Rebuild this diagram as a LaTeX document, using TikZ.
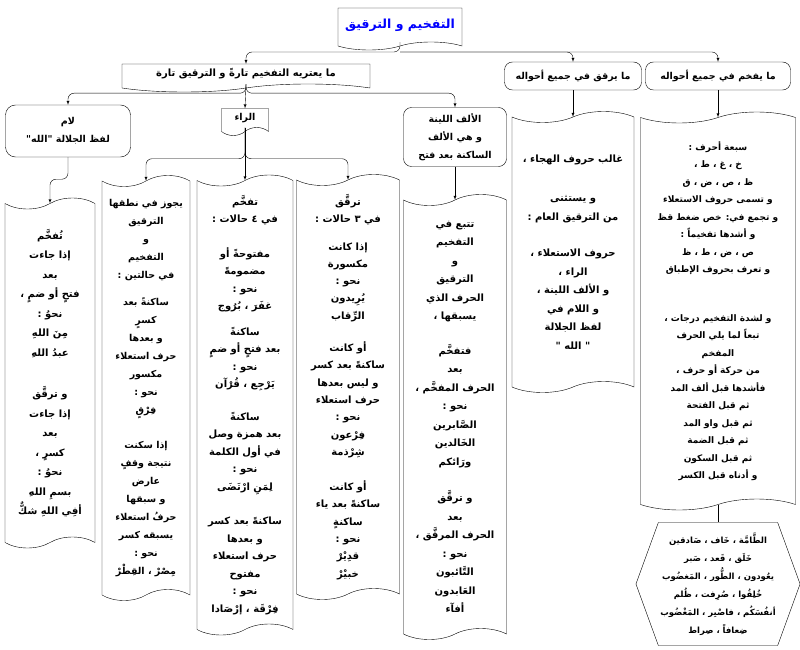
\documentclass[tikz,border=0pt]{standalone}
\usepackage{fontspec}
\newfontfamily\arabicfont[Script=Arabic]{DejaVuSans-Bold.ttf}
\TeXXeTstate=1
\newcommand{\rl}[1]{\beginR #1\endR}
\newcommand{\arsize}[2]{\arabicfont\fontsize{#1}{#2}\selectfont}
\usetikzlibrary{positioning,shapes.symbols}

\begin{document}
\begin{tikzpicture}[x=1pt, y=-1pt,
    every node/.style={font=\arsize{10}{18}, align=center, inner sep=2pt},
    hbox/.style={draw, rounded corners=8pt, font=\arsize{9.5}{18}},
    docbox/.style={draw, tape, tape bend top=none, tape bend height=8pt, font=\arsize{9.5}{18}},
    column/.style={draw, tape, tape bend height=11pt},
    hexa/.style={draw, signal, signal to=east and west, signal pointer angle=140},
    arrow/.style={-latex, rounded corners=6pt}
  ]
  \useasboundingbox (0,0) rectangle (800,650);

  % top level
  \node[docbox, minimum width=124pt, minimum height=42pt, text=blue, font=\arsize{12.5}{18}] (title) at (400,25) {\rl{التفخيم و الترقيق}};
  \node[docbox, minimum width=248pt, minimum height=28pt, font=\arsize{10}{18}] (ya3tarih) at (246,74) {\rl{ما يعتريه التفخيم تارةً و الترقيق تارة}};
  \node[hbox, minimum width=137pt, minimum height=28pt] (yuraqqaq) at (573,76) {\rl{ما يرقق في جميع أحواله}};
  \node[hbox, minimum width=145pt, minimum height=28pt] (yufakhkham) at (718,76) {\rl{ما يفخم في جميع أحواله}};

  % second level
  \node[hbox, rounded corners=10pt, minimum width=125pt, minimum height=52pt] (lam) at (68,131)
    {\rl{لام}\\ \rl{لفظ الجلالة "الله"}};
  \node[docbox, minimum width=47pt, minimum height=27pt] (raa) at (245,118) {\rl{الراء}};
  \node[hbox, minimum width=103pt, minimum height=59pt] (alif) at (455,137)
    {\rl{الألف اللينة}\\ \rl{و هي الألف}\\ \rl{الساكنة بعد فتح}};

  % columns
  \node[column, minimum width=90pt, minimum height=350pt, font=\arsize{10}{19.5}] (lamcol) at (50,373)
    {\rl{تُفخَّم}\\ \rl{إذا جاءت}\\ \rl{بعد}\\ \rl{فتحٍ أو ضمٍ ،}\\ \rl{نحوُ :}\\ \rl{مِنَ اللهِ}\\ \rl{عبدُ اللهِ}\\[22pt]
     \rl{و ترقَّق}\\ \rl{إذا جاءت}\\ \rl{بعد}\\ \rl{كسرٍ ،}\\ \rl{نحوُ :}\\ \rl{بسمِ اللهِ}\\ \rl{أفِي اللهِ شكٌّ}};
  \node[column, minimum width=88pt, minimum height=425pt, font=\arsize{9.5}{18}] (jawaz) at (146,388)
    {\rl{يجوز في نطقها}\\ \rl{الترقيق}\\ \rl{و}\\ \rl{التفخيم}\\ \rl{في حالتين :}\\[9pt]
     \rl{ساكنةً بعد}\\ \rl{كسرٍ}\\ \rl{و بعدها}\\ \rl{حرف استعلاء}\\ \rl{مكسور}\\ \rl{نحو :}\\ \rl{فِرْقٍ}\\[17pt]
     \rl{إذا سكنت}\\ \rl{نتيجة وقفٍ}\\ \rl{عارض}\\ \rl{و سبقها}\\ \rl{حرفُ استعلاء}\\ \rl{يسبقه كسر}\\ \rl{نحو :}\\ \rl{مِصْرْ ، القِطْرْ}};
  \node[column, minimum width=96pt, minimum height=460pt, font=\arsize{10}{17.5}] (tufakhkham) at (245,405)
    {\rl{تفخَّم}\\ \rl{في ٤ حالات :}\\[17pt]
     \rl{مفتوحةً أو}\\ \rl{مضمومةً}\\ \rl{نحو :}\\ \rl{غفَرَ ، بُرُوج}\\[8pt]
     \rl{ساكنةً}\\ \rl{بعد فتحٍ أو ضمٍ}\\ \rl{نحو :}\\ \rl{يَرْجِع ، قُرْآن}\\[15pt]
     \rl{ساكنةً}\\ \rl{بعد همزة وصل}\\ \rl{في أول الكلمة}\\ \rl{نحو :}\\ \rl{لِمَنِ ارْتَضَى}\\[17pt]
     \rl{ساكنةً بعد كسر}\\ \rl{و بعدها}\\ \rl{حرف استعلاء}\\ \rl{مفتوح}\\ \rl{نحو :}\\ \rl{فِرْقَة ، إرْصَادا}};
  \node[column, minimum width=103pt, minimum height=425pt, font=\arsize{10}{17.3}] (turaqqaq) at (348,387)
    {\rl{ترقَّق}\\ \rl{في ٣ حالات :}\\[10pt]
     \rl{إذا كانت}\\ \rl{مكسورة}\\ \rl{نحو :}\\ \rl{يُرِيدون}\\ \rl{الرِّقاب}\\[15pt]
     \rl{أو كانت}\\ \rl{ساكنةً بعد كسر}\\ \rl{و ليس بعدها}\\ \rl{حرف استعلاء}\\ \rl{نحو :}\\ \rl{فِرْعون}\\ \rl{شِرْذمة}\\[18pt]
     \rl{أو كانت}\\ \rl{ساكنةً بعد ياء}\\ \rl{ساكنةٍ}\\ \rl{نحو :}\\ \rl{قدِيْرْ}\\ \rl{خبيْرْ}};
  \node[column, minimum width=103pt, minimum height=445pt, font=\arsize{10}{18.5}] (alifcol) at (455,417)
    {\rl{تتبع في}\\ \rl{التفخيم}\\ \rl{و}\\ \rl{الترقيق}\\ \rl{الحرف الذي}\\ \rl{يسبقها ،}\\[16pt]
     \rl{فتفخَّم}\\ \rl{بعد}\\ \rl{الحرف المفخَّم ،}\\ \rl{نحو :}\\ \rl{الصَّابرين}\\ \rl{الخَالدين}\\ \rl{ورَائكم}\\[18pt]
     \rl{و ترقَّق}\\ \rl{بعد}\\ \rl{الحرف المرقَّق ،}\\ \rl{نحو :}\\ \rl{التَّائبون}\\ \rl{العَابدون}\\ \rl{أفآء}};
  \node[column, minimum width=122pt, minimum height=281pt, font=\arsize{10}{18.5}] (ragcol) at (573,252)
    {\rl{غالب حروف الهجاء ،}\\[21pt]
     \rl{و يستثنى}\\ \rl{من الترقيق العام :}\\[18pt]
     \rl{حروف الاستعلاء ،}\\ \rl{الراء ،}\\ \rl{و الألف اللينة ،}\\ \rl{و اللام في}\\ \rl{لفظ الجلالة}\\ \rl{" الله "}};
  \node[column, minimum width=155pt, minimum height=398pt, font=\arsize{9}{17.5}] (fakcol) at (718,311)
    {\rl{سبعة أحرف :}\\ \rl{خ ، غ ، ط ،}\\ \rl{ظ ، ص ، ض ، ق}\\ \rl{و تسمى حروف الاستعلاء}\\ \rl{و تجمع في: خص ضغط قظ}\\
     \rl{و أشدها تفخيماً :}\\ \rl{ص ، ض ، ط ، ظ}\\ \rl{و تعرف بحروف الإطباق}\\[31pt]
     \rl{و لشدة التفخيم درجات ،}\\ \rl{تبعاً لما يلي الحرف}\\ \rl{المفخم}\\ \rl{من حركة أو حرف ،}\\ \rl{فأشدها قبل ألف المد}\\
     \rl{ثم قبل الفتحة}\\ \rl{ثم قبل واو المد}\\ \rl{ثم قبل الضمة}\\ \rl{ثم قبل السكون}\\ \rl{و أدناه قبل الكسر}};
  \node[hexa, minimum width=157pt, minimum height=123pt, font=\arsize{8.5}{18}] (examples) at (718,584)
    {\rl{الطَّامَّة ، خَاف ، صَادقين}\\ \rl{خَلَق ، قَعد ، صَبر}\\ \rl{يعُودون ، الطُّور ، المَغضُوب}\\
     \rl{خُلِقُوا ، صُرِفت ، ظُلم}\\ \rl{أنفُسَكُم ، فاصْبِر ، المَغْضُوب}\\ \rl{ضِعافاً ، صِراط}};

  % connectors
  \coordinate (split) at (400,52);
  \draw[arrow] (title.south) -- (split) -| (ya3tarih.north);
  \draw[arrow] (split) -| (yuraqqaq.north);
  \draw[arrow] (split) -| (yufakhkham.north);

  \draw[arrow] (ya3tarih.south) -- (raa.north);
  \draw[arrow] (ya3tarih.south) -- ++(0,9) -| (lam.north);
  \draw[arrow] (ya3tarih.south) -- ++(0,9) -| (alif.north);

  \draw[arrow] (lam.south) -- ++(0,22) -| (lamcol.north);
  \draw[arrow] (raa.south) -- (tufakhkham.north);
  \draw[arrow] (raa.south) -- ++(0,31) -| (jawaz.north);
  \draw[arrow] (raa.south) -- ++(0,31) -| (turaqqaq.north);
  \draw[arrow] (alif.south) -- (alifcol.north);

  \draw[arrow] (yuraqqaq.south) -- (ragcol.north);
  \draw[arrow] (yufakhkham.south) -- (fakcol.north);
  \draw (fakcol.south) -- (examples.north);
\end{tikzpicture}
\end{document}
